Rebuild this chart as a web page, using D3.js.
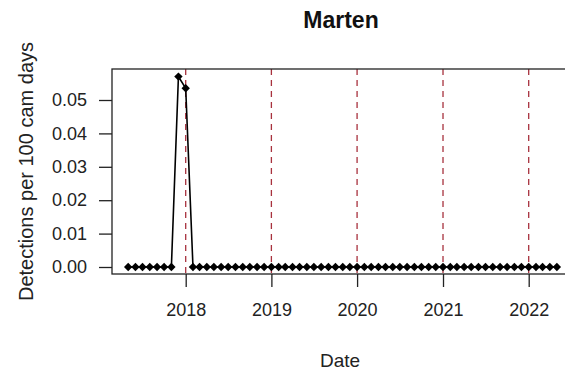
<!DOCTYPE html>
<html>
<head>
<meta charset="utf-8">
<script src="https://cdn.jsdelivr.net/npm/d3@7"></script>
<style>
  html, body { margin: 0; padding: 0; background: #fff; }
  svg { display: block; font-family: "Liberation Sans", Arial, sans-serif; }
</style>
</head>
<body>
<svg id="chart" width="565" height="372"></svg>
<script>
// Monthly detection rate for marten, May 2017 – May 2022
const firstMonth = new Date(2017, 4, 1);
const lastMonth = new Date(2022, 4, 1);
const months = d3.timeMonth.range(firstMonth, d3.timeMonth.offset(lastMonth, 1));
const detections = [
  0, 0, 0, 0, 0, 0, 0, 0.057,            // 2017 May–Dec
  0.0535, 0, 0, 0, 0, 0, 0, 0, 0, 0, 0, 0, // 2018
  0, 0, 0, 0, 0, 0, 0, 0, 0, 0, 0, 0,      // 2019
  0, 0, 0, 0, 0, 0, 0, 0, 0, 0, 0, 0,      // 2020
  0, 0, 0, 0, 0, 0, 0, 0, 0, 0, 0, 0,      // 2021
  0, 0, 0, 0, 0                            // 2022 Jan–May
];
const yearTicks = [2018, 2019, 2020, 2021, 2022];
const yTicks = [0, 0.01, 0.02, 0.03, 0.04, 0.05];
const titleText = "Marten";
const xLabel = "Date";
const yLabel = "Detections per 100 cam days";

const data = months.map((d, i) => ({ date: d, value: detections[i] }));

const svg = d3.select("#chart");
const box = { left: 112, top: 69, right: 572, bottom: 274 };

const x = d3.scaleTime()
  .domain([new Date(2018, 0, 1), new Date(2022, 0, 1)])
  .range([185.7, 528.7]);
const y = d3.scaleLinear()
  .domain([0, 0.05])
  .range([267, 100]);

// reference lines at each new year
svg.append("g")
  .selectAll("line")
  .data(yearTicks)
  .join("line")
  .attr("x1", d => x(new Date(d, 0, 1)))
  .attr("x2", d => x(new Date(d, 0, 1)))
  .attr("y1", box.top)
  .attr("y2", box.bottom)
  .attr("stroke", "#a8323e")
  .attr("stroke-width", 1.3)
  .attr("stroke-dasharray", "6,5");

// series line
svg.append("path")
  .datum(data)
  .attr("fill", "none")
  .attr("stroke", "#000")
  .attr("stroke-width", 1.6)
  .attr("d", d3.line().x(d => x(d.date)).y(d => y(d.value)));

// filled diamond markers
const r = 4.2;
svg.append("g")
  .selectAll("path")
  .data(data)
  .join("path")
  .attr("transform", d => `translate(${x(d.date)},${y(d.value)})`)
  .attr("d", `M0,${-r}L${r},0L0,${r}L${-r},0Z`)
  .attr("fill", "#000");

// plot frame
svg.append("rect")
  .attr("x", box.left)
  .attr("y", box.top)
  .attr("width", box.right - box.left)
  .attr("height", box.bottom - box.top)
  .attr("fill", "none")
  .attr("stroke", "#222")
  .attr("stroke-width", 1.3);

// x axis
const xAxis = svg.append("g")
  .attr("transform", `translate(0,${box.bottom})`)
  .call(d3.axisBottom(x)
    .tickValues(yearTicks.map(d => new Date(d, 0, 1)))
    .tickFormat(d3.timeFormat("%Y"))
    .tickSize(13)
    .tickPadding(16));
xAxis.select(".domain").remove();
xAxis.selectAll("line").attr("stroke", "#222").attr("stroke-width", 1.3);
xAxis.selectAll("text").attr("font-size", 18).attr("fill", "#222")
  .attr("font-family", "Liberation Sans, Arial, sans-serif");

// y axis
const yAxis = svg.append("g")
  .attr("transform", `translate(${box.left},0)`)
  .call(d3.axisLeft(y)
    .tickValues(yTicks)
    .tickFormat(d3.format(".2f"))
    .tickSize(13)
    .tickPadding(12));
yAxis.select(".domain").remove();
yAxis.selectAll("line").attr("stroke", "#222").attr("stroke-width", 1.3);
yAxis.selectAll("text").attr("font-size", 18).attr("fill", "#222")
  .attr("font-family", "Liberation Sans, Arial, sans-serif");

// titles
svg.append("text")
  .attr("x", 341).attr("y", 28)
  .attr("text-anchor", "middle")
  .attr("font-size", 23).attr("font-weight", "bold")
  .attr("fill", "#111")
  .text(titleText);

svg.append("text")
  .attr("x", 340).attr("y", 367)
  .attr("text-anchor", "middle")
  .attr("font-size", 19).attr("fill", "#222")
  .text(xLabel);

svg.append("text")
  .attr("transform", `translate(33,${(box.top + box.bottom) / 2}) rotate(-90)`)
  .attr("text-anchor", "middle")
  .attr("font-size", 20).attr("fill", "#222")
  .text(yLabel);
</script>
</body>
</html>
